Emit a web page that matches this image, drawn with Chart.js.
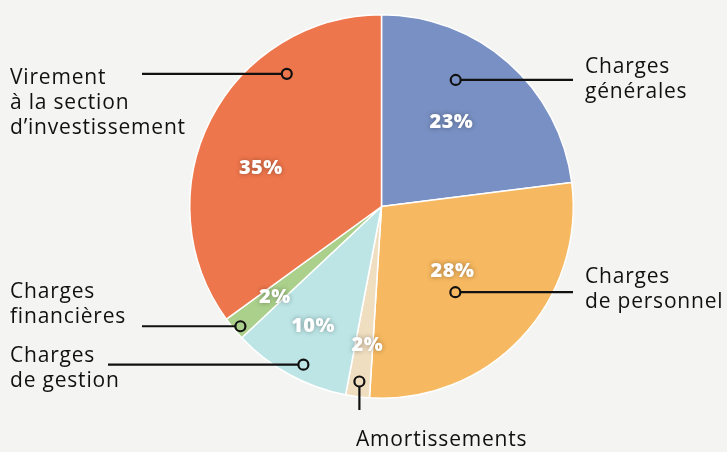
<!DOCTYPE html>
<html>
<head>
<meta charset="utf-8">
<script src="https://cdn.jsdelivr.net/npm/chart.js@4"></script>
<style>
  html, body { margin: 0; padding: 0; background: #f4f4f2; }
  #wrap { width: 727px; height: 452px; position: relative; }
</style>
</head>
<body>
<div id="wrap"><canvas id="budgetChart"></canvas></div>
<script>
// Data
const categories = ['Charges générales', 'Charges de personnel', 'Amortissements', 'Charges de gestion', 'Charges financières', 'Virement à la section d’investissement'];
const shares = [23, 28, 2, 10, 2, 35];
const sliceColors = ['#7890c3', '#f6b860', '#f0dec0', '#bde5e6', '#abd08b', '#ee764c'];

// label text, split in lines
const labelLines = [
    ['Charges', 'générales'],
    ['Charges', 'de personnel'],
    ['Amortissements'],
    ['Charges', 'de gestion'],
    ['Charges', 'financières'],
    ['Virement', 'à la section', 'd’investissement']
];

// where things go: fraction along slice, fraction of radius
const pctPos = [[0.48, 0.57], [0.49, 0.50], [0.3, 0.73], [0.525, 0.72], [0.4, 0.73], [0.425, 0.66]];
const markerPos = [[0.367, 0.765], [0.56, 0.59], [0.5, 0.92], [0.43, 0.92], [0.4, 0.965], [0.718, 0.85]];
// leader end and text anchor
const callouts = [
    { dir: 'h', end: 573, tx: 585, ty: 67 },
    { dir: 'h', end: 573, tx: 585, ty: 277 },
    { dir: 'v', end: 410, tx: 356, ty: 440 },
    { dir: 'h', end: 108, tx: 10, ty: 356 },
    { dir: 'h', end: 142, tx: 10, ty: 292 },
    { dir: 'h', end: 142, tx: 10, ty: 78 }
];

const FONT = '"Open Sans", "Noto Sans", sans-serif';

function pointOn(arc, f, r) {
    const a = arc.startAngle + (arc.endAngle - arc.startAngle) * f;
    return { x: arc.x + Math.cos(a) * arc.outerRadius * r, y: arc.y + Math.sin(a) * arc.outerRadius * r };
}

const calloutPlugin = {
    id: 'callouts',
    afterDatasetsDraw(chart) {
        const ctx = chart.ctx;
        const arcs = chart.getDatasetMeta(0).data;
        ctx.save();
        arcs.forEach((arc, i) => {
            // percentage
            const p = pointOn(arc, pctPos[i][0], pctPos[i][1]);
            ctx.save();
            ctx.font = '800 20px ' + FONT;
            ctx.letterSpacing = '0.5px';
            ctx.fillStyle = '#ffffff';
            ctx.textAlign = 'center';
            ctx.textBaseline = 'middle';
            ctx.shadowColor = 'rgba(0,0,0,0.35)';
            ctx.shadowBlur = 5;
            ctx.fillText(shares[i] + '%', p.x, p.y);
            ctx.restore();

            // leader line + marker
            const m = pointOn(arc, markerPos[i][0], markerPos[i][1]);
            const c = callouts[i];
            ctx.strokeStyle = '#111111';
            ctx.lineWidth = 2.2;
            ctx.beginPath();
            if (c.dir === 'h') {
                ctx.moveTo(m.x + (c.end > m.x ? 5 : -5), m.y);
                ctx.lineTo(c.end, m.y);
            } else {
                ctx.moveTo(m.x, m.y + 5);
                ctx.lineTo(m.x, c.end);
            }
            ctx.stroke();
            ctx.beginPath();
            ctx.arc(m.x, m.y, 5, 0, Math.PI * 2);
            ctx.stroke();

            // label text
            ctx.save();
            ctx.fillStyle = '#111111';
            ctx.font = '21px ' + FONT;
            ctx.letterSpacing = '0.8px';
            ctx.textAlign = 'left';
            ctx.textBaseline = 'middle';
            labelLines[i].forEach((line, k) => {
                ctx.fillText(line, c.tx, c.ty + k * 25);
            });
            ctx.restore();
        });
        ctx.restore();
    }
};

const ctx = document.getElementById('budgetChart').getContext('2d');
new Chart(ctx, {
    type: 'pie',
    data: {
        labels: categories,
        datasets: [{
            data: shares,
            backgroundColor: sliceColors,
            borderColor: '#ffffff',
            borderWidth: 1.5
        }]
    },
    options: {
        responsive: true,
        maintainAspectRatio: false,
        animation: false,
        layout: { padding: { left: 189, right: 153, top: 14, bottom: 53 } },
        plugins: {
            legend: { display: false },
            tooltip: { enabled: false }
        }
    },
    plugins: [calloutPlugin]
});
</script>
</body>
</html>
